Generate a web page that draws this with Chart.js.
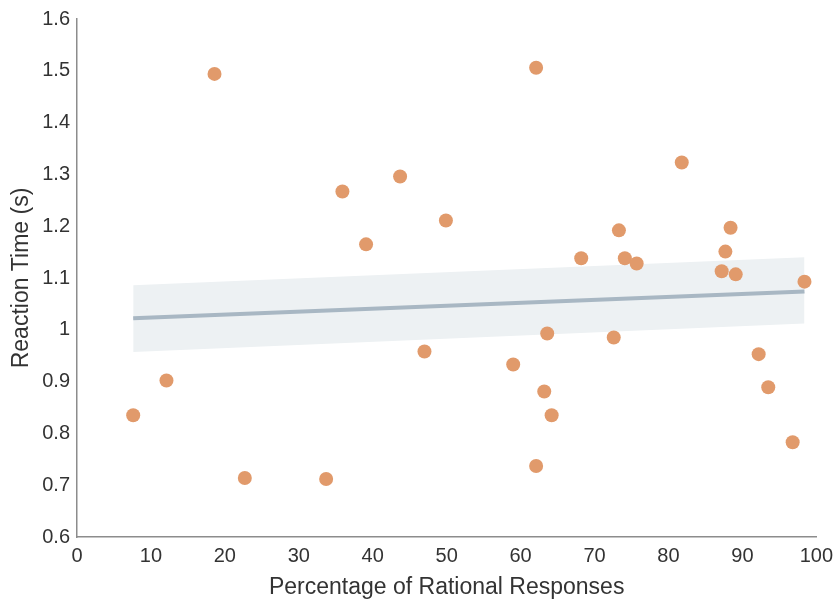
<!DOCTYPE html>
<html>
<head>
<meta charset="utf-8">
<script src="https://cdn.jsdelivr.net/npm/chart.js@4"></script>
<style>
  html, body { margin: 0; padding: 0; background: #ffffff; }
  #wrap { width: 840px; height: 599px; }
</style>
</head>
<body>
<div id="wrap"><canvas id="c" width="840" height="599"></canvas></div>
<script>
// Data
const rationalPct = [7.6, 12.1, 18.6, 22.7, 33.7, 35.9, 39.1, 43.7, 47.0, 49.9,
                     59.0, 62.1, 62.1, 63.2, 63.6, 64.2, 68.2, 72.6, 73.3, 74.1,
                     75.7, 81.8, 87.2, 87.7, 88.4, 89.1, 92.2, 93.5, 96.8, 98.4];
const reactionTime = [0.835, 0.902, 1.494, 0.714, 0.712, 1.267, 1.165, 1.296, 0.958, 1.211,
                      0.933, 1.506, 0.737, 0.881, 0.993, 0.835, 1.138, 0.985, 1.192, 1.138,
                      1.128, 1.323, 1.113, 1.151, 1.197, 1.107, 0.953, 0.889, 0.783, 1.093];
const fitX = [7.6, 98.4];
const fitY = [1.0225, 1.074];
const bandUpper = [1.086, 1.140];
const bandLower = [0.957, 1.012];
const xTicks = [0, 10, 20, 30, 40, 50, 60, 70, 80, 90, 100];
const yTicks = [0.6, 0.7, 0.8, 0.9, 1.0, 1.1, 1.2, 1.3, 1.4, 1.5, 1.6];

const toPts = (xs, ys) => xs.map((x, i) => ({ x: x, y: ys[i] }));
const FONT = "'Liberation Sans', Arial, Helvetica, sans-serif";
const TEXT = '#333333';
const AXIS = '#8c8c8c';

new Chart(document.getElementById('c'), {
  type: 'scatter',
  data: {
    datasets: [
      {
        label: 'upper',
        type: 'line',
        data: toPts(fitX, bandUpper),
        borderWidth: 0,
        pointRadius: 0,
        backgroundColor: '#edf1f3',
        fill: '+1',
        order: 3
      },
      {
        label: 'lower',
        type: 'line',
        data: toPts(fitX, bandLower),
        borderWidth: 0,
        pointRadius: 0,
        fill: false,
        order: 3
      },
      {
        label: 'fit',
        type: 'line',
        data: toPts(fitX, fitY),
        borderColor: '#a8b7c3',
        borderWidth: 4,
        pointRadius: 0,
        fill: false,
        order: 2
      },
      {
        label: 'participants',
        data: toPts(rationalPct, reactionTime),
        backgroundColor: '#e19a6b',
        borderWidth: 0,
        pointRadius: 7,
        order: 1
      }
    ]
  },
  options: {
    responsive: false,
    animation: false,
    layout: { padding: { top: 18, right: 22, left: 0, bottom: 0 } },
    plugins: { legend: { display: false }, tooltip: { enabled: false } },
    scales: {
      x: {
        type: 'linear',
        min: 0, max: 100,
        afterBuildTicks: s => { s.ticks = xTicks.map(v => ({ value: v })); },
        afterFit: s => { s.height = 62; },
        grid: { display: false, drawTicks: false },
        border: { display: true, color: AXIS, width: 1.5 },
        ticks: { color: TEXT, font: { family: FONT, size: 20 }, padding: 7, maxRotation: 0, autoSkip: false },
        title: { display: true, text: 'Percentage of Rational Responses', color: TEXT,
                 font: { family: FONT, size: 23, lineHeight: 1 }, padding: { top: 0, bottom: 0 } }
      },
      y: {
        type: 'linear',
        min: 0.6, max: 1.6,
        afterBuildTicks: s => { s.ticks = yTicks.map(v => ({ value: v })); },
        afterFit: s => { s.width = 77; },
        grid: { display: false, drawTicks: false },
        border: { display: true, color: AXIS, width: 1.5 },
        ticks: { color: TEXT, font: { family: FONT, size: 20 }, padding: 7, autoSkip: false,
                 callback: v => String(Number(Number(v).toFixed(1))) },
        title: { display: true, text: 'Reaction Time (s)', color: TEXT,
                 font: { family: FONT, size: 23, lineHeight: 1 }, padding: { top: 10, bottom: 0 } }
      }
    }
  }
});
</script>
</body>
</html>
